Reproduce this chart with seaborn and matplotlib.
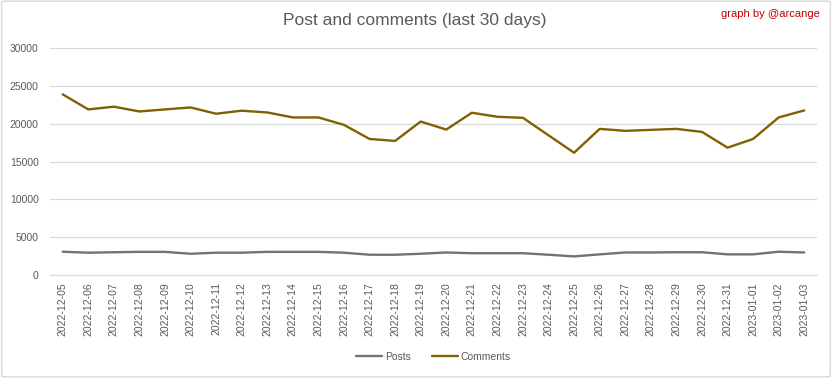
import matplotlib.pyplot as plt
import pandas as pd
import seaborn as sns
from matplotlib.patches import FancyBboxPatch

# days shown on the x axis
dates = [
    "2022-12-05", "2022-12-06", "2022-12-07", "2022-12-08", "2022-12-09",
    "2022-12-10", "2022-12-11", "2022-12-12", "2022-12-13", "2022-12-14",
    "2022-12-15", "2022-12-16", "2022-12-17", "2022-12-18", "2022-12-19",
    "2022-12-20", "2022-12-21", "2022-12-22", "2022-12-23", "2022-12-24",
    "2022-12-25", "2022-12-26", "2022-12-27", "2022-12-28", "2022-12-29",
    "2022-12-30", "2022-12-31", "2023-01-01", "2023-01-02", "2023-01-03",
]

# values
posts = [
    3100, 2970, 3030, 3080, 3080, 2830, 2970, 2970, 3080, 3080,
    3080, 2970, 2700, 2700, 2830, 3000, 2900, 2900, 2900, 2700,
    2480, 2750, 3000, 3000, 3030, 3030, 2750, 2750, 3100, 3000,
]
comments = [
    23880, 21890, 22250, 21620, 21890, 22150, 21320, 21720, 21490, 20830,
    20830, 19850, 17990, 17730, 20290, 19230, 21450, 20920, 20780, 18470,
    16170, 19320, 19060, 19190, 19320, 18920, 16840, 17990, 20830, 21760,
]

series_names = ["Posts", "Comments"]
series_colors = ["#767171", "#806000"]

df = pd.DataFrame({"date": dates * 2,
                   "value": posts + comments,
                   "series": ["Posts"] * len(dates) + ["Comments"] * len(dates)})

sns.set_style("white")
plt.rcParams["font.family"] = ["Liberation Sans", "DejaVu Sans"]

fig = plt.figure(figsize=(8.32, 3.78), dpi=100)
ax = fig.add_axes([0.060, 0.272, 0.922, 0.601])

sns.lineplot(data=df, x="date", y="value", hue="series", hue_order=series_names,
             palette=dict(zip(series_names, series_colors)), linewidth=1.7,
             sort=False, ax=ax)

ax.set_xlim(-0.5, len(dates) - 0.5)
ax.set_ylim(0, 30000)
ax.set_yticks(range(0, 30001, 5000))
ax.grid(axis="y", color="#d9d9d9", linewidth=0.9)
ax.set_axisbelow(True)
for s in ["top", "right", "left"]:
    ax.spines[s].set_visible(False)
ax.spines["bottom"].set_color("#d9d9d9")
ax.set_xlabel("")
ax.set_ylabel("")
ax.tick_params(axis="x", labelrotation=90, labelsize=7.5, colors="#595959", length=0, pad=5)
ax.tick_params(axis="y", labelsize=7.5, colors="#595959", length=0, pad=8)

ax.legend(loc="center", bbox_to_anchor=(0.5, -0.36), ncol=2, frameon=False,
          fontsize=7.5, labelcolor="#595959", handlelength=2.5, columnspacing=2,
          handletextpad=0.3)

fig.text(0.499, 0.945, "Post and comments (last 30 days)", ha="center", va="center",
         fontsize=12.5, color="#595959")
fig.text(0.985, 0.962, "graph by @arcange", ha="right", va="center",
         fontsize=8, color="#c00000")

# light border around the whole chart
fig.patches.append(FancyBboxPatch((0.002, 0.003), 0.996, 0.994,
                                  boxstyle="round,pad=0,rounding_size=0.004",
                                  transform=fig.transFigure, facecolor="none",
                                  edgecolor="#d9d9d9", linewidth=1))

fig.savefig("out.png", dpi=100)
